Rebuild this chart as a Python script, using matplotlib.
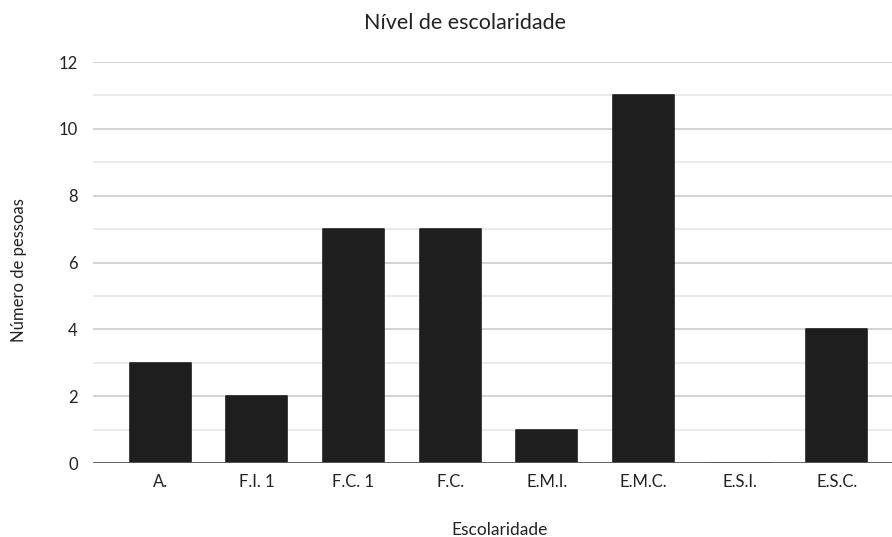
import matplotlib
matplotlib.use("Agg")
import matplotlib.pyplot as plt
import numpy as np

categories = ["A.", "F.I. 1", "F.C. 1", "F.C.", "E.M.I.", "E.M.C.", "E.S.I.", "E.S.C."]
counts = [3, 2, 7, 7, 1, 11, 0, 4]
y_ticks = [0, 2, 4, 6, 8, 10, 12]

plt.rcParams['font.family'] = ['Lato', 'DejaVu Sans']

fig = plt.figure(figsize=(8.92, 5.37), dpi=100)
ax = fig.add_axes([0.1043, 0.1378, 0.8957, 0.7467])

x = np.arange(len(categories))
ax.bar(x, counts, width=0.63, color="#1e1e1e", edgecolor="#1e1e1e",
       linewidth=1.2, joinstyle="round", zorder=3)

ax.set_ylim(0, 12)
ax.set_xlim(-0.693, 7.57)
ax.set_yticks(y_ticks)
ax.set_yticks([1, 3, 5, 7, 9, 11], minor=True)
ax.set_xticks(x)
ax.set_xticklabels(categories)

ax.grid(axis="y", which="major", color="#cccccc", linewidth=1.2, zorder=0)
ax.grid(axis="y", which="minor", color="#e6e6e6", linewidth=1.2, zorder=0)
ax.axhline(0, color="#5a5a5a", linewidth=1.3, zorder=4)

for s in ax.spines.values():
    s.set_visible(False)
ax.tick_params(axis="both", which="both", length=0, labelsize=12, colors="#222222")
ax.tick_params(axis="y", pad=11)
ax.tick_params(axis="x", pad=8)

fig.text(0.521, 0.958, "Nível de escolaridade", ha="center", va="center",
         fontsize=15.5, color="#222222")
fig.text(0.56, 0.013, "Escolaridade", ha="center", va="center",
         fontsize=12.5, color="#222222")
fig.text(0.021, 0.497, "Número de pessoas", ha="center", va="center",
         rotation=90, fontsize=12, color="#222222")

fig.savefig("out.png", dpi=100)
